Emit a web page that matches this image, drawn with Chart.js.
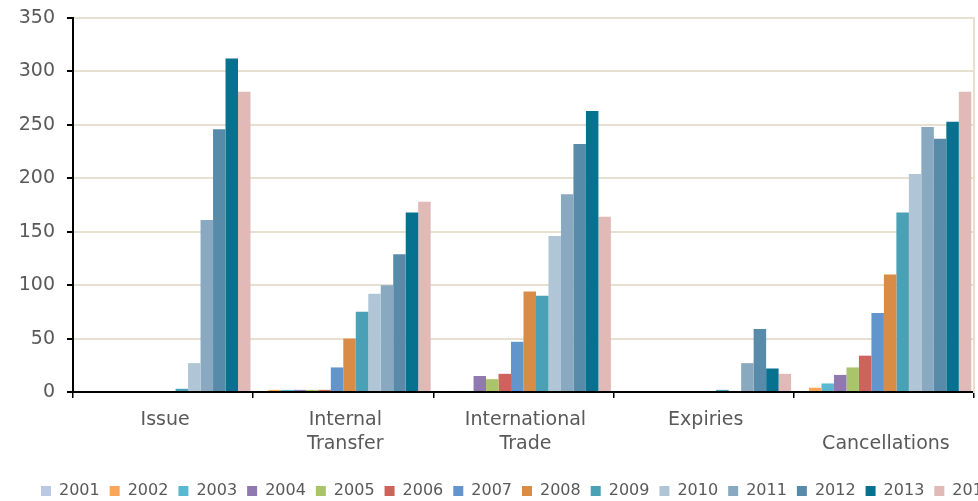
<!DOCTYPE html>
<html>
<head>
<meta charset="utf-8">
<script src="https://cdn.jsdelivr.net/npm/chart.js@4.4.0/dist/chart.umd.min.js"></script>
<style>
  html, body { margin: 0; padding: 0; background: #fff; overflow: hidden; }
  #wrap { width: 978px; height: 501px; overflow: hidden; }
</style>
</head>
<body>
<div id="wrap"><canvas id="chart" width="1034" height="509"></canvas></div>
<script>
// transaction types along the x axis
const categories = [['Issue'], ['Internal', 'Transfer'], ['International', 'Trade'], ['Expiries'], ['', 'Cancellations']];
const years = ['2001', '2002', '2003', '2004', '2005', '2006', '2007', '2008', '2009', '2010', '2011', '2012', '2013', '2014'];
const yTicks = [0, 50, 100, 150, 200, 250, 300, 350];

// one array per year: Issue, Internal Transfer, International Trade, Expiries, Cancellations
const y2001 = [0, 0, 0, 0, 0];
const y2002 = [0, 2, 1, 0, 4];
const y2003 = [0, 2, 1, 0, 8];
const y2004 = [0, 2, 15, 0, 16];
const y2005 = [0, 2, 12, 0, 23];
const y2006 = [0, 2, 17, 0, 34];
const y2007 = [0, 23, 47, 0, 74];
const y2008 = [0, 50, 94, 0, 110];
const y2009 = [3, 75, 90, 2, 168];
const y2010 = [27, 92, 146, 1, 204];
const y2011 = [161, 100, 185, 27, 248];
const y2012 = [246, 129, 232, 59, 237];
const y2013 = [312, 168, 263, 22, 253];
const y2014 = [281, 178, 164, 17, 281];

const series = [y2001, y2002, y2003, y2004, y2005, y2006, y2007, y2008, y2009, y2010, y2011, y2012, y2013, y2014];
const colors = ['#b9c9e3', '#f9a65a', '#5ab9d0', '#9079b0', '#aac46b', '#cd635a', '#6295cb',
                '#d98c46', '#4aa0b5', '#b0c6d6', '#88a9bf', '#588ba9', '#06728f', '#e1b9b7'];

const gridColor = '#e7dfcf';
const textColor = '#595959';

Chart.defaults.font.family = "'DejaVu Sans', Verdana, sans-serif";
Chart.defaults.color = textColor;

new Chart(document.getElementById('chart'), {
  type: 'bar',
  data: {
    labels: categories,
    datasets: years.map((yr, i) => ({
      label: yr,
      data: series[i],
      backgroundColor: colors[i],
      borderWidth: 0,
      categoryPercentage: 0.97,
      barPercentage: 1
    }))
  },
  options: {
    responsive: false,
    animation: false,
    layout: { padding: { top: 18, left: 0, right: 0, bottom: 0 } },
    plugins: {
      tooltip: { enabled: false },
      legend: {
        position: 'bottom',
        labels: {
          boxWidth: 10,
          boxHeight: 10,
          padding: 10,
          color: textColor,
          font: { size: 16 }
        }
      }
    },
    scales: {
      x: {
        grid: { drawOnChartArea: false, offset: true, tickLength: 6, color: '#000', lineWidth: 1.5 },
        border: { color: '#000', width: 2 },
        ticks: { font: { size: 19, lineHeight: 1.25 }, color: textColor, padding: 10, labelOffset: 2, maxRotation: 0, autoSkip: false },
        afterFit: s => { s.height = 81; }
      },
      y: {
        min: 0,
        max: 350,
        afterBuildTicks: s => { s.ticks = yTicks.map(v => ({ value: v })); },
        grid: { color: gridColor, lineWidth: 2, tickColor: '#000', tickLength: 6 },
        border: { color: '#000', width: 2 },
        ticks: { font: { size: 19 }, color: textColor, padding: 12 },
        // fixed width, and let the top label overhang into the padding
        afterFit: s => { s.width = 73; s.paddingTop = 0; s.paddingBottom = 0; }
      },
      // empty right-hand axis: keeps the plot edge and draws its light frame line
      yRight: {
        position: 'right',
        min: 0,
        max: 350,
        grid: { drawOnChartArea: false, drawTicks: false },
        border: { color: gridColor, width: 2 },
        ticks: { display: false },
        afterFit: s => { s.width = 60; s.paddingTop = 0; s.paddingBottom = 0; }
      }
    }
  }
});
</script>
</body>
</html>
